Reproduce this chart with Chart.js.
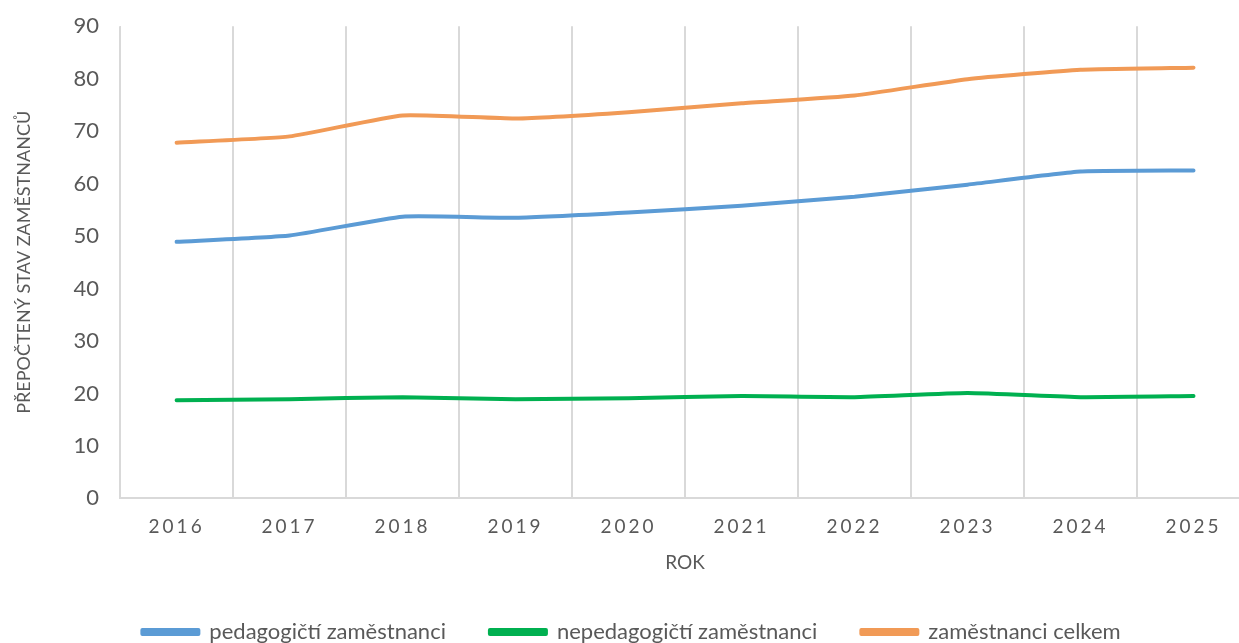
<!DOCTYPE html>
<html>
<head>
<meta charset="utf-8">
<script src="https://cdn.jsdelivr.net/npm/chart.js@4/dist/chart.umd.min.js"></script>
<style>
    html, body { margin: 0; padding: 0; background: #fff; overflow: hidden; }
    #wrap { width: 1239px; height: 643px; overflow: hidden; }
</style>
</head>
<body>
<div id="wrap"><canvas id="graf" width="1252" height="643"></canvas></div>
<script>
// Data
const roky = ['2016', '2017', '2018', '2019', '2020', '2021', '2022', '2023', '2024', '2025'];
const pedagogicti = [48.9, 50.1, 53.7, 53.5, 54.5, 55.8, 57.5, 59.8, 62.3, 62.5];
const nepedagogicti = [18.7, 18.9, 19.3, 18.9, 19.1, 19.5, 19.3, 20.1, 19.3, 19.5];
const celkem = [67.8, 69.0, 73.0, 72.4, 73.6, 75.3, 76.8, 79.9, 81.7, 82.1];

Chart.defaults.font.family = "Lato, 'Open Sans', sans-serif";
Chart.defaults.color = '#595959';

// Rozpal písmen u popisků let (jako v Excelu)
const rozpalPlugin = {
    id: 'rozpal',
    afterUpdate(chart) {
        const osa = chart.scales.x;
        if (osa._rozpal) return;
        const puvodni = osa.drawLabels;
        osa.drawLabels = function (area) {
            const ctx = this.ctx;
            ctx.save();
            ctx.letterSpacing = '3px';
            puvodni.call(this, area);
            ctx.restore();
        };
        osa._rozpal = true;
    }
};

const ctx = document.getElementById('graf').getContext('2d');
new Chart(ctx, {
    type: 'line',
    data: {
        labels: roky,
        datasets: [
            { label: 'pedagogičtí zaměstnanci', data: pedagogicti, borderColor: '#5B9BD5', backgroundColor: '#5B9BD5' },
            { label: 'nepedagogičtí zaměstnanci', data: nepedagogicti, borderColor: '#00B050', backgroundColor: '#00B050' },
            { label: 'zaměstnanci celkem', data: celkem, borderColor: '#F19A56', backgroundColor: '#F19A56' }
        ]
    },
    options: {
        responsive: false,
        animation: false,
        layout: { padding: { top: 20, left: 13, right: 2, bottom: -10 } },
        elements: {
            line: { tension: 0.15, borderWidth: 4, borderCapStyle: 'round', borderJoinStyle: 'round' },
            point: { radius: 0 }
        },
        scales: {
            x: {
                offset: true,
                grid: { offset: true, color: '#D9D9D9', lineWidth: 2, drawTicks: false },
                border: { color: '#D9D9D9', width: 2 },
                ticks: { padding: 17, font: { size: 19 }, color: '#595959' },
                title: { display: true, text: 'ROK', font: { size: 19 }, color: '#595959', padding: { top: -4, bottom: 3 } }
            },
            y: {
                min: 0,
                max: 90,
                ticks: { stepSize: 10, padding: 13, font: { size: 22 }, color: '#595959' },
                grid: { display: false },
                border: { color: '#D9D9D9', width: 1 },
                title: { display: true, text: 'PŘEPOČTENÝ STAV ZAMĚSTNANCŮ', font: { size: 18 }, color: '#595959', padding: { top: 0, bottom: 26 } }
            }
        },
        plugins: {
            legend: {
                position: 'bottom',
                labels: { boxWidth: 56, boxHeight: 4, padding: 44, font: { size: 22 }, color: '#595959' }
            },
            tooltip: { enabled: false }
        }
    },
    plugins: [rozpalPlugin]
});
</script>
</body>
</html>
